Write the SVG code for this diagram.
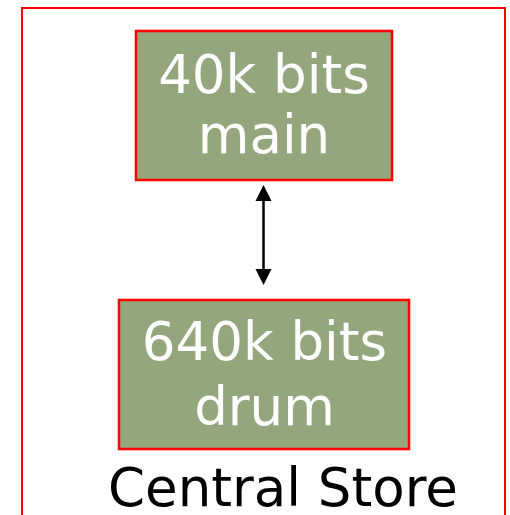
<svg xmlns="http://www.w3.org/2000/svg" width="510" height="515" viewBox="0 0 510 515">
<style>
.box{fill:#93A67C;stroke:#FF0000;stroke-width:2.5}
.lbl{font-family:"DejaVu Sans",Verdana,sans-serif;font-size:53px;fill:#FFFFFF;text-anchor:middle}
.cap{font-family:"DejaVu Sans",Verdana,sans-serif;font-size:53px;fill:#000000;text-anchor:middle}
.head{fill:#000000}
</style>
<rect x="22" y="8" width="483" height="520" fill="none" stroke="#FF0000" stroke-width="2"/>
<g id="main">
<rect class="box" x="136" y="31" width="256" height="149"/>
<text class="lbl" x="264" y="93">40k bits</text>
<text class="lbl" x="264" y="153">main</text>
</g>
<g id="drum">
<rect class="box" x="119" y="300" width="290" height="149"/>
<text class="lbl" x="264.5" y="360">640k bits</text>
<text class="lbl" x="264.5" y="425">drum</text>
</g>
<g id="connectors">
<line x1="263.5" y1="198" x2="263.5" y2="272" stroke="#000" stroke-width="2.5"/>
<path class="head" d="M263.5,185 L271.5,201 L255.5,201 Z"/>
<path class="head" d="M263.5,285 L271.5,269 L255.5,269 Z"/>
</g>
<text class="cap" x="283" y="506">Central Store</text>
</svg>
